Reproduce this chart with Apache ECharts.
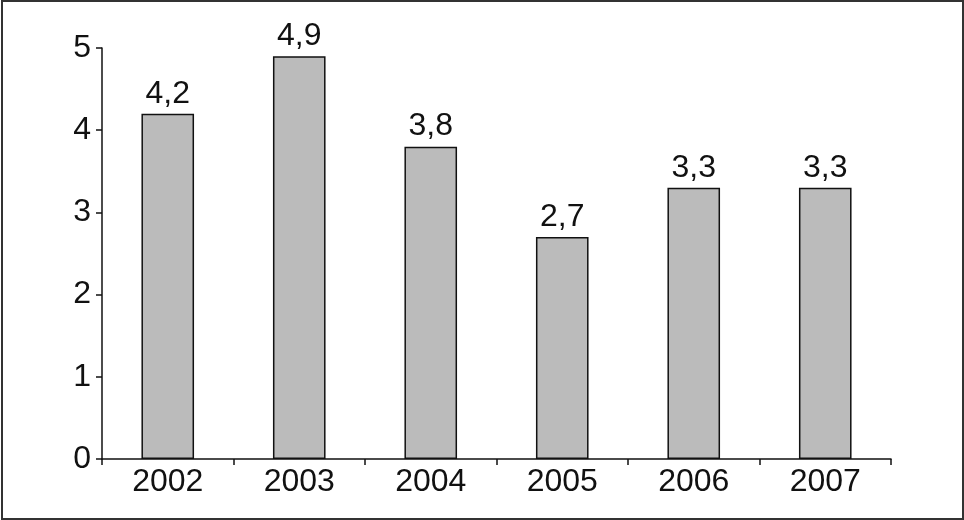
<!DOCTYPE html>
<html>
<head>
<meta charset="utf-8">
<script src="https://cdn.jsdelivr.net/npm/echarts@6/dist/echarts.min.js"></script>
<style>
html,body{margin:0;padding:0;background:#fff;}
#frame{position:absolute;left:1px;top:0px;width:959px;height:516px;border:2px solid #333;box-sizing:content-box;}
#chart{position:absolute;left:0;top:0;width:964px;height:520px;}
</style>
</head>
<body>
<div id="frame"></div>
<div id="chart"></div>
<script>
const categories = ['2002', '2003', '2004', '2005', '2006', '2007'];
const values = [4.2, 4.9, 3.8, 2.7, 3.3, 3.3];
const yTicks = [0, 1, 2, 3, 4, 5];

const chart = echarts.init(document.getElementById('chart'));
chart.setOption({
  animation: false,
  grid: { left: 102, right: 73, top: 48, bottom: 61 },
  xAxis: {
    type: 'category',
    data: categories,
    axisLine: { lineStyle: { color: '#111', width: 1.5 } },
    axisTick: { show: true, length: 6, lineStyle: { color: '#111', width: 1.5 } },
    axisLabel: { color: '#111', fontSize: 32, fontFamily: 'Liberation Sans', margin: 7 }
  },
  yAxis: {
    type: 'value',
    min: yTicks[0],
    max: yTicks[yTicks.length - 1],
    interval: 1,
    splitLine: { show: false },
    axisLine: { show: true, lineStyle: { color: '#111', width: 1.5 } },
    axisTick: { show: true, length: 6, lineStyle: { color: '#111', width: 1.5 } },
    axisLabel: { color: '#111', fontSize: 32, fontFamily: 'Liberation Sans', margin: 11 }
  },
  series: [{
    type: 'bar',
    data: values,
    barWidth: '40%',
    itemStyle: { color: '#bbbbbb', borderColor: '#111', borderWidth: 1.5 },
    label: {
      show: true,
      position: 'top',
      distance: 4,
      color: '#111',
      fontSize: 32,
      fontFamily: 'Liberation Sans',
      formatter: p => String(p.value).replace('.', ',')
    }
  }]
});
</script>
</body>
</html>
